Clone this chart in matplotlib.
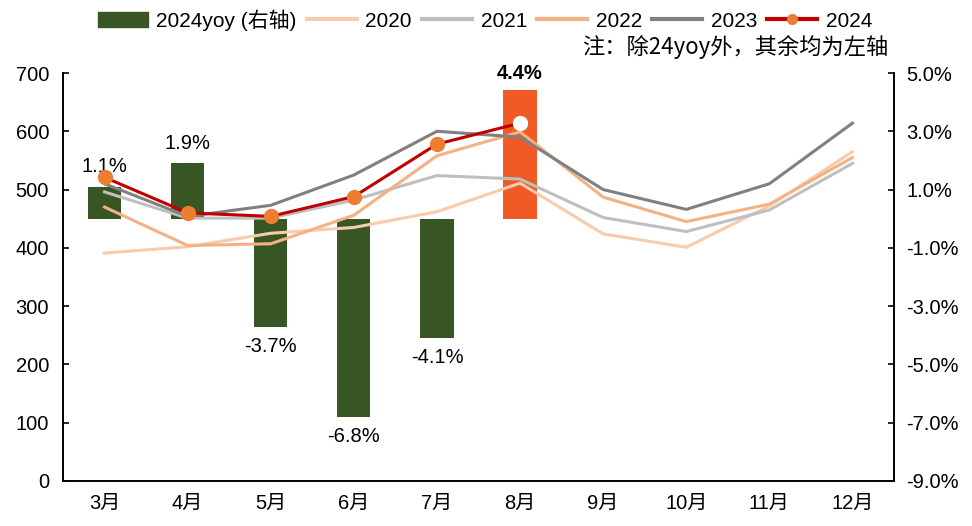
import matplotlib
matplotlib.use("Agg")
import matplotlib.pyplot as plt
from matplotlib.lines import Line2D
from matplotlib.patches import Patch

plt.rcParams["font.family"] = ["Liberation Sans", "Noto Sans CJK SC"]
plt.rcParams["font.size"] = 14.5

# ── Data ───────────────────────────────────────────────
months = ["3月", "4月", "5月", "6月", "7月", "8月", "9月", "10月", "11月", "12月"]
yoy_2024 = [1.1, 1.9, -3.7, -6.8, -4.1, 4.4]          # %, right axis
yoy_labels = ["1.1%", "1.9%", "-3.7%", "-6.8%", "-4.1%", "4.4%"]
s2020 = [391, 402, 425, 435, 462, 511, 424, 401, 472, 565]
s2021 = [496, 451, 451, 482, 524, 518, 452, 428, 465, 545]
s2022 = [470, 404, 407, 456, 558, 599, 487, 445, 475, 555]
s2023 = [510, 454, 473, 525, 600, 590, 500, 466, 510, 614]
s2024 = [521, 460, 454, 488, 578, 614]

# ── Colors ─────────────────────────────────────────────
c_bar = "#375623"
c_bar_hi = "#F05A24"
c_2020 = "#F8CBAD"
c_2021 = "#BFBFBF"
c_2022 = "#F4B183"
c_2023 = "#808080"
c_2024 = "#C00000"
c_mark = "#ED7D31"

fig = plt.figure(figsize=(9.72, 5.26), dpi=100)
ax = fig.add_axes([0.0648, 0.0856, 0.855, 0.7756])
ax2 = ax.twinx()

x = list(range(len(months)))

# bars on right axis
bar_colors = [c_bar] * (len(yoy_2024) - 1) + [c_bar_hi]
ax2.bar(x[:len(yoy_2024)], yoy_2024, width=0.4, color=bar_colors, zorder=1)
ax2.set_ylim(-9, 5)
ax2.set_yticks([5, 3, 1, -1, -3, -5, -7, -9])
ax2.set_yticklabels([f"{v:.1f}%" for v in [5, 3, 1, -1, -3, -5, -7, -9]])

for i, (v, lab) in enumerate(zip(yoy_2024, yoy_labels)):
    if i == len(yoy_2024) - 1:
        ax2.text(i, v + 0.25, lab, ha="center", va="bottom", fontweight="bold")
    elif v >= 0:
        ax2.text(i, v + 0.35, lab, ha="center", va="bottom")
    else:
        ax2.text(i, v - 0.35, lab, ha="center", va="top")

# lines on the left axis, kept above the bars
ax.set_zorder(ax2.get_zorder() + 1)
ax.patch.set_visible(False)

ax.plot(x, s2020, color=c_2020, lw=2.2)
ax.plot(x, s2021, color=c_2021, lw=2.2)
ax.plot(x, s2022, color=c_2022, lw=2.2)
ax.plot(x, s2023, color=c_2023, lw=2.2)
ax.plot(x[:len(s2024)], s2024, color=c_2024, lw=2.2)
ax.plot(x[:len(s2024) - 1], s2024[:-1], ls="none", marker="o", ms=10,
        color=c_mark)
ax.plot(x[len(s2024) - 1], s2024[-1], ls="none", marker="o", ms=10,
        color="white")

ax.set_ylim(0, 700)
ax.set_yticks(range(0, 701, 100))
ax.set_xlim(-0.5, len(months) - 0.5)
ax.set_xticks(x)
ax.set_xticklabels(months)

ax.tick_params(axis="y", direction="in", length=4, width=1.2, pad=10)
ax.tick_params(axis="x", length=0, pad=9)
ax2.tick_params(axis="y", direction="in", length=4, width=1.2, pad=9)

for a in (ax, ax2):
    a.spines["top"].set_visible(False)
    for s in ("left", "right", "bottom"):
        a.spines[s].set_linewidth(1.2)

# ── Legend ─────────────────────────────────────────────
handles = [
    Patch(color=c_bar, label="2024yoy (右轴)"),
    Line2D([], [], color=c_2020, lw=3, label="2020"),
    Line2D([], [], color=c_2021, lw=3, label="2021"),
    Line2D([], [], color=c_2022, lw=3, label="2022"),
    Line2D([], [], color=c_2023, lw=3, label="2023"),
    Line2D([], [], color=c_2024, lw=3, marker="o", ms=7,
           markerfacecolor=c_mark, markeredgecolor=c_mark, label="2024"),
]
fig.legend(handles=handles, loc="center", bbox_to_anchor=(0.499, 0.962),
           ncol=6, frameon=False, fontsize=15, handlelength=2.4,
           handletextpad=0.4, columnspacing=0.5, handleheight=0.8,
           borderpad=0.2)

fig.text(0.914, 0.91, "注：除24yoy外，其余均为左轴", ha="right", va="center",
         fontsize=16, family=["Noto Sans CJK SC"])

fig.savefig("out.png", dpi=100)
plt.close(fig)
